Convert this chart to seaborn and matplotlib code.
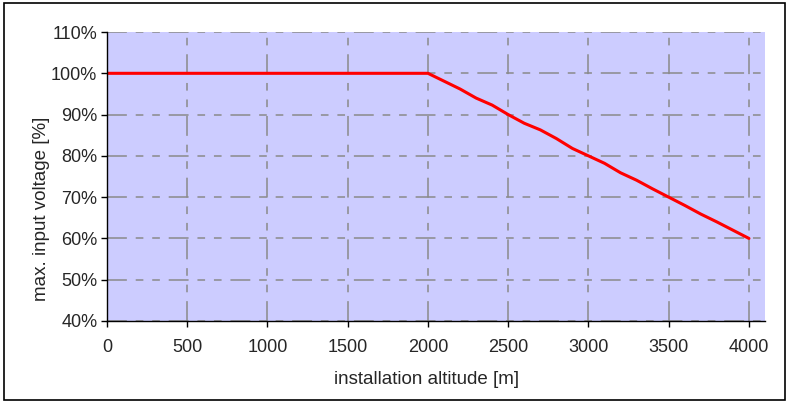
import matplotlib
matplotlib.use("Agg")
import matplotlib.pyplot as plt
import seaborn as sns
import pandas as pd
from matplotlib.ticker import FuncFormatter

# altitude in m and max input voltage in %
altitude = [0, 500, 1000, 1500, 2000, 2100, 2200, 2300, 2400, 2500, 2600, 2700,
            2800, 2900, 3000, 3100, 3200, 3300, 3400, 3500, 3600, 3700, 3800,
            3900, 4000]
voltage = [100, 100, 100, 100, 100, 98.1, 96.2, 94.0, 92.3, 90.0, 87.9, 86.3,
           84.2, 81.8, 80.0, 78.2, 75.9, 74.1, 72.0, 70.0, 68.0, 65.9, 64.0,
           62.0, 60.0]
x_ticks = [0, 500, 1000, 1500, 2000, 2500, 3000, 3500, 4000]
y_ticks = [40, 50, 60, 70, 80, 90, 100, 110]

df = pd.DataFrame({"altitude": altitude, "voltage": voltage})

sns.set_style("ticks")
plt.rcParams["font.family"] = ["Liberation Sans", "DejaVu Sans"]

fig = plt.figure(figsize=(7.89, 4.03), dpi=100)
ax = fig.add_axes([0.1356, 0.2035, 0.834, 0.717])
ax.set_facecolor("#ccccff")

sns.lineplot(data=df, x="altitude", y="voltage", color="#ff0000", linewidth=2.2, ax=ax)

ax.set_xlim(0, 4100)
ax.set_ylim(40, 110)
ax.set_xticks(x_ticks)
ax.set_yticks(y_ticks)
ax.yaxis.set_major_formatter(FuncFormatter(lambda v, p: f"{v:.0f}%"))
ax.grid(True, color="#8a8a8a", linewidth=1.1, linestyle=(0, (13, 5.8, 5, 5.8, 5, 5.8)))
ax.set_axisbelow(True)
ax.tick_params(labelsize=13, length=4, width=1, color="black")
ax.tick_params(axis="x", pad=9)
ax.tick_params(axis="y", pad=3)

for s in ["top", "right"]:
    ax.spines[s].set_visible(False)
for s in ["left", "bottom"]:
    ax.spines[s].set_color("black")
    ax.spines[s].set_linewidth(1)

ax.set_xlabel("installation altitude [m]", fontsize=13.5)
ax.set_ylabel("max. input voltage [%]", fontsize=13.5)
ax.xaxis.set_label_coords(0.485, -0.172)
ax.yaxis.set_label_coords(-0.087, 0.388)

# outer frame
fig.patches.append(plt.Rectangle((0.005, 0.008), 0.99, 0.984, transform=fig.transFigure,
                                 fill=False, edgecolor="black", linewidth=1.2))

fig.savefig("out.png", dpi=100)
